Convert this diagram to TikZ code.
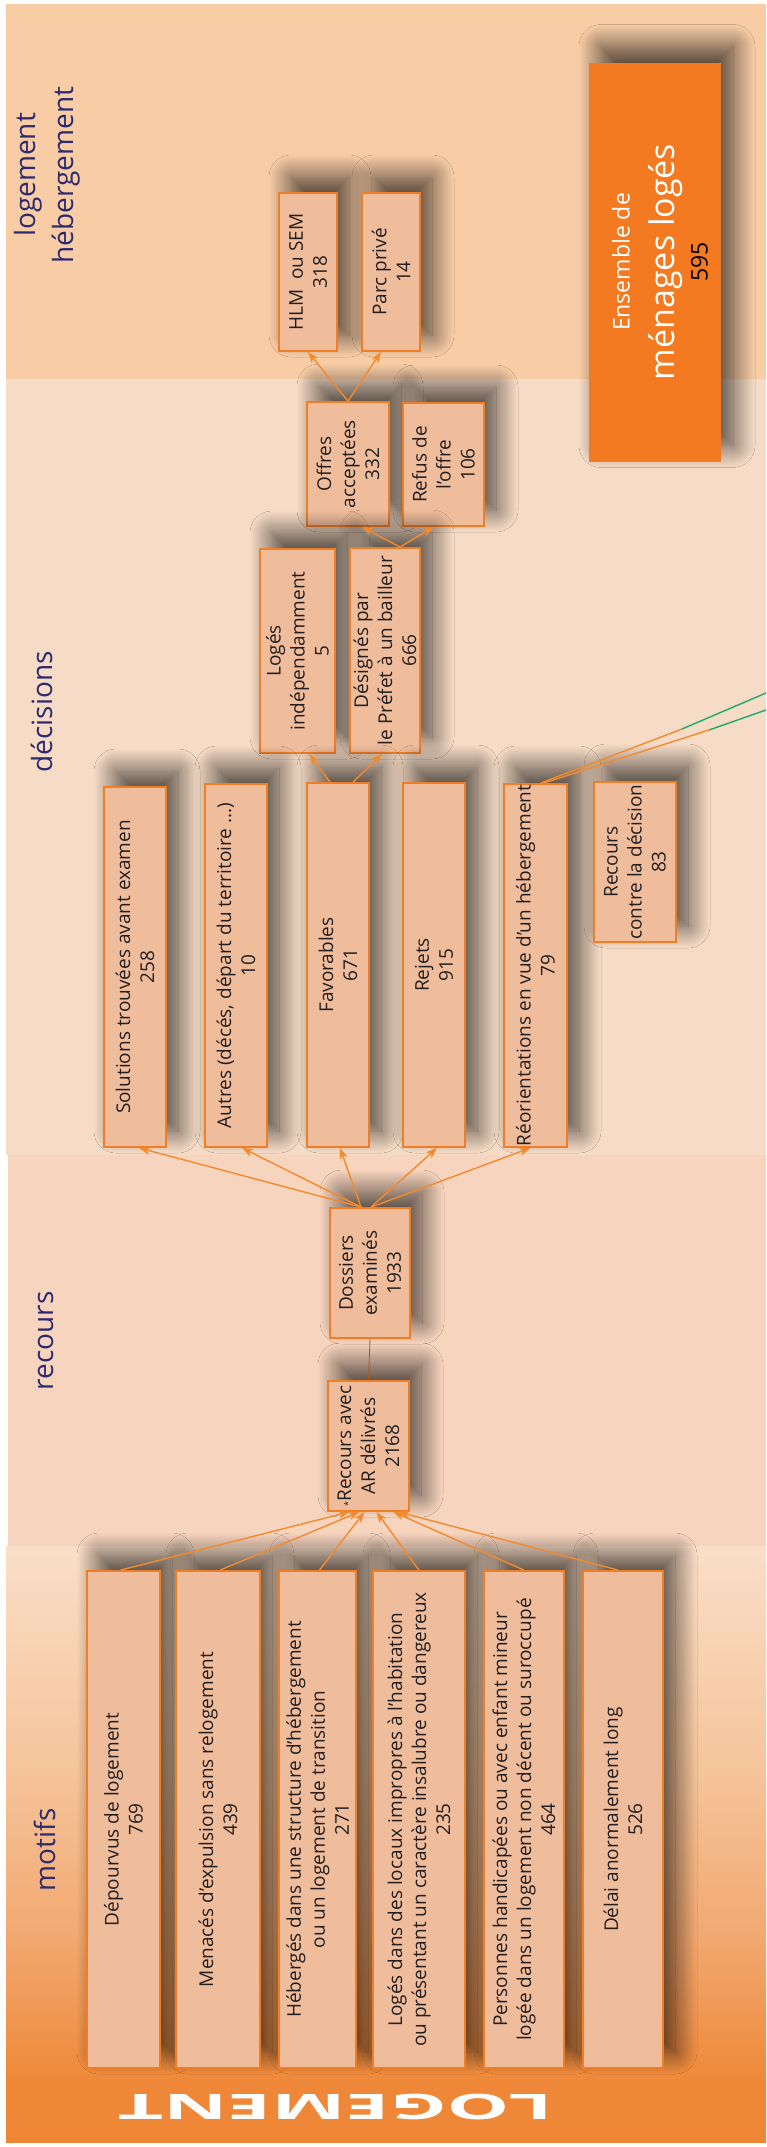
\documentclass[tikz,border=0pt]{standalone}
\usepackage{fontspec}
\setmainfont{Open Sans}
\usetikzlibrary{arrows.meta,shadows.blur}
\definecolor{bandlog}{HTML}{F8CDA6}
\definecolor{banddec}{HTML}{F6DCC6}
\definecolor{bandrec}{HTML}{F7D4BE}
\definecolor{motifbot}{HTML}{EE7D2A}
\definecolor{motifa}{HTML}{EE8838}
\definecolor{motifb}{HTML}{F2A870}
\definecolor{motifc}{HTML}{F5C49A}
\definecolor{motifd}{HTML}{FAE0CA}
\definecolor{boxfill}{HTML}{F0BD9C}
\definecolor{boxline}{HTML}{F07E26}
\definecolor{arrcol}{HTML}{F28A2E}
\definecolor{ensorange}{HTML}{F47A22}
\definecolor{navy}{HTML}{2D2A6E}
\definecolor{vert}{HTML}{1FA86B}
\definecolor{txt}{HTML}{231F20}
\pgfdeclareverticalshading{motifshade}{100bp}{color(0bp)=(motifbot); color(30bp)=(motifa);
  color(42bp)=(motifb); color(56bp)=(motifc); color(76bp)=(motifd); color(91bp)=(white); color(100bp)=(white)}

\begin{document}
\begin{tikzpicture}[x=1pt,y=-1pt,
  ombre/.style={blur shadow={shadow xshift=12pt,shadow yshift=16pt,shadow blur radius=22pt,shadow blur steps=24,shadow opacity=70}},
  box/.style={draw=boxline,line width=1.8pt,fill=boxfill,inner sep=0pt,ombre},
  lbl/.style={rotate=90,align=center,text=txt,font=\fontsize{19}{24}\selectfont},
  titre/.style={rotate=90,align=center,text=navy,font=\fontsize{28}{38}\selectfont},
  arr/.style={draw=arrcol,line width=1.4pt,-{Stealth[length=11pt,width=8pt,inset=3pt]}}]
  \useasboundingbox (0,0) rectangle (766,2147);
  % bandes
  \fill[bandlog] (6,4) rectangle (766,379);
  \fill[banddec] (6,379) rectangle (766,1155);
  \fill[bandrec] (8,1155) rectangle (766,1546);
  \shade[shading=motifshade] (6,1546) rectangle (766,2142);

  % logement hebergement
  \node (1) at (308,272) [box,minimum width=58pt,minimum height=158pt] {};
  \node (2) at (391,272) [box,minimum width=58pt,minimum height=158pt] {};
  \node (21) at (655,262) [fill=ensorange,inner sep=0pt,minimum width=132pt,minimum height=399pt,ombre] {};
  \draw (1) node [lbl] {HLM~ ou SEM\\318};
  \draw (2) node [lbl] {Parc privé\\14};
  \draw ([xshift=5pt]21.center) node [rotate=90,align=center,text=white,font=\fontsize{23}{33}\selectfont]
    {Ensemble de\\[12pt]{\fontsize{34}{34}\selectfont ménages logés}\\{\color{black}595}};

  % decisions
  \node (3) at (348,464) [box,minimum width=82pt,minimum height=124pt] {};
  \node (4) at (443.5,464.5) [box,minimum width=81pt,minimum height=123pt] {};
  \node (5) at (297.5,651) [box,minimum width=75pt,minimum height=204pt] {};
  \node (6) at (385,650.5) [box,minimum width=70pt,minimum height=205pt] {};
  \node (7) at (135,967) [box,minimum width=62pt,minimum height=360pt] {};
  \node (8) at (236,965.5) [box,minimum width=62pt,minimum height=363pt] {};
  \node (9) at (338,965) [box,minimum width=62pt,minimum height=364pt] {};
  \node (10) at (434,965) [box,minimum width=62pt,minimum height=364pt] {};
  \node (11) at (535.5,965.5) [box,minimum width=63pt,minimum height=363pt] {};
  \node (12) at (635,862) [box,minimum width=82pt,minimum height=160pt] {};
  \draw (3) node [lbl] {Offres\\acceptées\\332};
  \draw (4) node [lbl] {Refus de\\l’offre\\106};
  \draw (5) node [lbl] {Logés\\indépendamment\\5};
  \draw (6) node [lbl] {Désignés par\\le Préfet à un bailleur\\666};
  \draw (7) node [lbl] {Solutions trouvées avant examen\\258};
  \draw (8) node [lbl] {Autres (décés, départ du territoire ...)\\10};
  \draw (9) node [lbl] {Favorables\\671};
  \draw (10) node [lbl] {Rejets\\915};
  \draw (11) node [lbl] {Réorientations en vue d’un hébergement\\79};
  \draw (12) node [lbl] {Recours\\contre la décision\\83};

  % recours
  \node (13) at (370,1273) [box,minimum width=80pt,minimum height=130pt] {};
  \node (14) at (368.5,1446) [box,minimum width=81pt,minimum height=130pt] {};
  \draw (13) node [lbl] {Dossiers\\examinés\\1933};
  \draw (14) node [lbl] {{\fontsize{9}{9}\selectfont *}Recours avec\\AR délivrés\\2168};

  % motifs
  \node (15) at (123.5,1819.5) [box,minimum width=73pt,minimum height=497pt] {};
  \node (16) at (218,1819.5) [box,minimum width=84pt,minimum height=497pt] {};
  \node (17) at (317.5,1819.5) [box,minimum width=77pt,minimum height=497pt] {};
  \node (18) at (419,1819.5) [box,minimum width=92pt,minimum height=497pt] {};
  \node (19) at (524,1819.5) [box,minimum width=80pt,minimum height=497pt] {};
  \node (20) at (623,1819.5) [box,minimum width=80pt,minimum height=497pt] {};
  \draw (15) node [lbl] {Dépourvus de logement\\769};
  \draw (16) node [lbl] {Menacés d’expulsion sans relogement\\439};
  \draw (17) node [lbl] {Hébergés dans une structure d’hébergement\\ou un logement de transition\\271};
  \draw (18) node [lbl] {Logés dans des locaux impropres à l’habitation\\ou présentant un caractère insalubre ou dangereux\\235};
  \draw (19) node [lbl] {Personnes handicapées ou avec enfant mineur\\logée dans un logement non décent ou suroccupé\\464};
  \draw (20) node [lbl] {Délai anormalement long\\526};

  % titres
  \node (22) at (47,175) [titre] {logement\\hébergement};
  \node (23) at (42,712) [titre] {décisions};
  \node (24) at (46,1341) [titre] {recours};
  \node (25) at (45,1850) [titre] {motifs};
  \node (26) at (335,2107) [rotate=180,xscale=2.25,text=white,font=\fontsize{35}{35}\selectfont\bfseries] {LOGEMENT};

  % fleches
  \draw[arr] (3.north) to (1.south);
  \draw[arr] (3.north) to ([xshift=-10pt]2.south);
  \draw[arr] ([xshift=15pt]6.north) to ([xshift=14pt]3.south);
  \draw[arr] ([xshift=15pt]6.north) to ([xshift=-10pt]4.south);
  \draw[arr] ([xshift=-8pt]9.north) to ([xshift=12pt]5.south);
  \draw[arr] ([xshift=15pt]9.north) to ([xshift=-3pt]6.south);
  \draw[arr] ([xshift=-9pt]13.north) to ([xshift=4pt]7.south);
  \draw[arr] ([xshift=-9pt]13.north) to ([xshift=6pt]8.south);
  \draw[arr] ([xshift=-9pt]13.north) to ([xshift=2pt]9.south);
  \draw[arr] ([xshift=1pt]13.north) to ([xshift=3pt]10.south);
  \draw[arr] ([xshift=1pt]13.north) to ([xshift=-5pt]11.south);
  \draw[draw=boxline!70!black,line width=0.8pt] (14.north) to (13.south);
  \draw[arr] ([xshift=-3pt]15.north) to ([xshift=-19pt]14.south);
  \draw[arr] ([xshift=2pt]16.north) to ([xshift=-9pt]14.south);
  \draw[arr] ([xshift=2pt]17.north) to ([xshift=-4pt]14.south);
  \draw[arr] (18.north) to ([xshift=8pt]14.south);
  \draw[arr] (19.north) to ([xshift=25pt]14.south);
  \draw[arr] ([xshift=-5pt]20.north) to ([xshift=30pt]14.south);

  % vers la droite
  \coordinate (g1) at (682,729);
  \coordinate (e1) at (766,693);
  \coordinate (g2) at (709,730);
  \coordinate (e2) at (766,710);
  \draw[arrcol,line width=1.4pt] ([xshift=5pt]11.north) to (g1);
  \draw[vert,line width=1.4pt] (g1) to (e1);
  \draw[arrcol,line width=1.4pt] ([xshift=8pt]11.north) to (g2);
  \draw[vert,line width=1.4pt] (g2) to (e2);
\end{tikzpicture}
\end{document}
